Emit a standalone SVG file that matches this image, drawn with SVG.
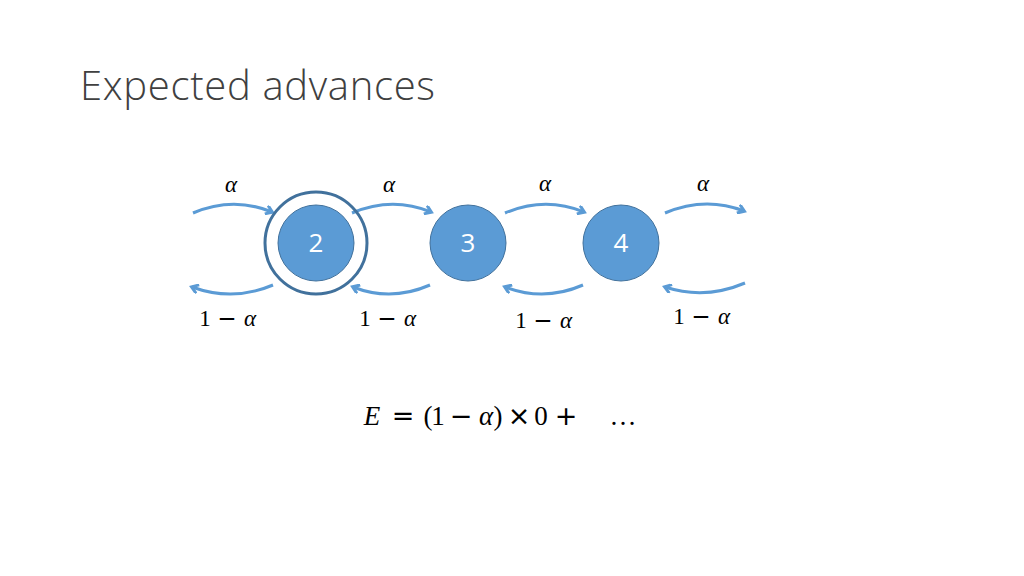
<svg xmlns="http://www.w3.org/2000/svg" width="1024" height="576" viewBox="0 0 1024 576">
<style>
.title{font-family:"Open Sans","Liberation Sans",sans-serif;font-weight:300;font-size:40px;fill:#404040}
.node{fill:#5b9bd5;stroke:#41719c;stroke-width:1}
.num{font-family:"Open Sans","Liberation Sans",sans-serif;font-size:26px;fill:#ffffff;text-anchor:middle}
.lbl{font-family:"Liberation Serif","Times New Roman",serif;font-size:23px;fill:#000;text-anchor:middle}
.it{font-style:italic}
.op{font-family:"DejaVu Sans",sans-serif;font-weight:normal}
.arc{fill:none;stroke:#5b9bd5;stroke-width:3;marker-end:url(#ah)}
.eq{font-family:"Liberation Serif","Times New Roman",serif;font-size:27px;fill:#000;text-anchor:middle}
</style>
<defs>
<marker id="ah" markerWidth="10" markerHeight="10" refX="7" refY="5" orient="auto" markerUnits="userSpaceOnUse">
<path d="M1,0.5 L7.5,5 L1,9.5" fill="none" stroke="#5b9bd5" stroke-width="3"/>
</marker>
</defs>
<rect width="1024" height="576" fill="#ffffff"/>
<text class="title" x="80" y="100" textLength="355">Expected advances</text>
<g id="connectors">
<path class="arc" d="M193,213 Q233,196 272,212"/>
<path class="arc" d="M352,213 Q392,196 431,212"/>
<path class="arc" d="M505,213 Q545,196 584,212"/>
<path class="arc" d="M665,213 Q705,196 744,211"/>
<path class="arc" d="M273,285 Q233,302 192,287"/>
<path class="arc" d="M430,285 Q391,302 353,287"/>
<path class="arc" d="M583,285 Q544,302 505,287"/>
<path class="arc" d="M745,283 Q705,300 665,287"/>
</g>
<g id="node2">
<circle cx="316" cy="243" r="51" fill="none" stroke="#41719c" stroke-width="3"/>
<circle class="node" cx="316" cy="243" r="38"/>
<text class="num" x="316" y="252">2</text>
</g>
<g id="node3">
<circle class="node" cx="468" cy="243" r="38"/>
<text class="num" x="468" y="252">3</text>
</g>
<g id="node4">
<circle class="node" cx="621" cy="243" r="38"/>
<text class="num" x="621" y="252">4</text>
</g>
<g id="labels">
<text class="lbl it" x="231" y="192">α</text>
<text class="lbl it" x="389" y="192">α</text>
<text class="lbl it" x="545" y="191">α</text>
<text class="lbl it" x="703" y="191">α</text>
<text class="lbl"><tspan x="205" y="326">1</tspan><tspan class="op" x="227" y="326">−</tspan><tspan class="it" x="250" y="326">α</tspan></text>
<text class="lbl"><tspan x="365" y="326">1</tspan><tspan class="op" x="387" y="326">−</tspan><tspan class="it" x="410" y="326">α</tspan></text>
<text class="lbl"><tspan x="521" y="328">1</tspan><tspan class="op" x="543" y="328">−</tspan><tspan class="it" x="566" y="328">α</tspan></text>
<text class="lbl"><tspan x="679" y="324">1</tspan><tspan class="op" x="701" y="324">−</tspan><tspan class="it" x="724" y="324">α</tspan></text>
</g>
<text class="eq"><tspan class="it" x="372" y="425">E</tspan><tspan class="op" x="403" y="425">=</tspan><tspan x="428" y="425">(</tspan><tspan x="438" y="425">1</tspan><tspan class="op" x="461" y="425">−</tspan><tspan class="it" x="486" y="425">α</tspan><tspan x="498" y="425">)</tspan><tspan class="op" x="519" y="425">×</tspan><tspan x="541" y="425">0</tspan><tspan class="op" x="566" y="425">+</tspan><tspan x="623" y="425">…</tspan></text>
</svg>
